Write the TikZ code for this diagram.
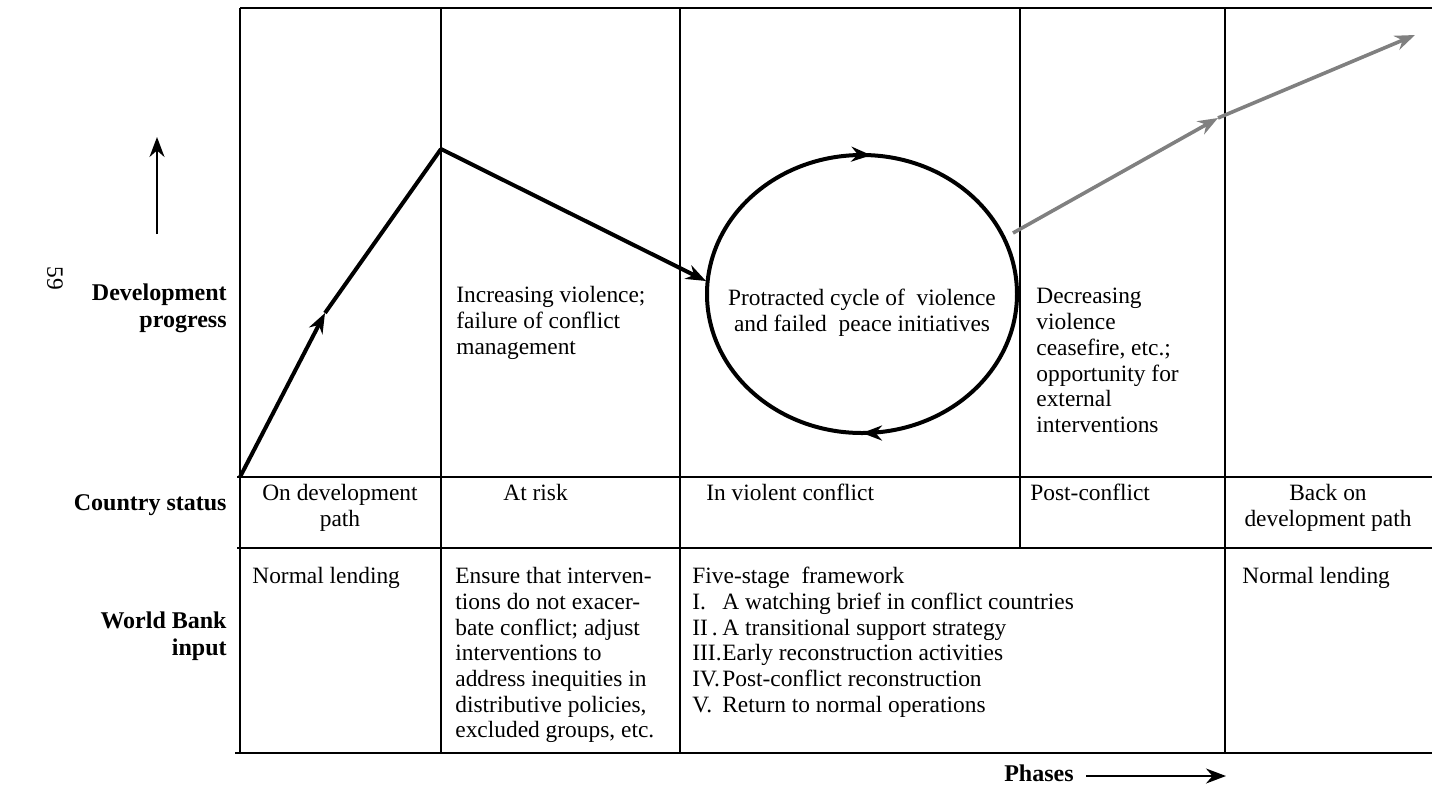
\documentclass[tikz,border=0pt]{standalone}
\usepackage{fontspec}
\setmainfont{Liberation Serif}
\usetikzlibrary{arrows.meta,decorations.markings}
\begin{document}
\begin{tikzpicture}[x=0.5pt,y=-0.5pt,
  gridline/.style={line width=1pt},
  chart/.style={line width=2pt},
  tip/.style={-{Stealth[length=10pt,width=7.5pt]}},
  grayline/.style={line width=1.8pt,draw=black!50},
  graytip/.style={-{Stealth[length=10pt,width=7.5pt]}},
  lbl/.style={font=\bfseries\fontsize{12}{13.5}\selectfont,align=right,inner sep=0pt},
  txt/.style={font=\fontsize{11.7}{12.85}\selectfont,align=left,inner sep=0pt},
  ctxt/.style={font=\fontsize{11.7}{12.85}\selectfont,align=center,inner sep=0pt}]
\useasboundingbox (0,0) rectangle (1432,789);

% ---------- grid ----------
\coordinate (tl) at (240,8);   \coordinate (tr) at (1432,8);
\coordinate (sl) at (237,477); \coordinate (sr) at (1432,477);
\coordinate (wl) at (237,548); \coordinate (wr) at (1432,548);
\coordinate (bl) at (235,753); \coordinate (br) at (1432,753);
\draw[gridline] (tl) -- (tr);
\draw[gridline] (sl) -- (sr);
\draw[gridline] (wl) -- (wr);
\draw[gridline] (bl) -- (br);
\foreach \x/\n in {240/a,441/b,680/c,1225/e}{
  \coordinate (v\n t) at (\x,8); \coordinate (v\n b) at (\x,753);
  \draw[gridline] (v\n t) -- (v\n b);}
\coordinate (vdt) at (1020,8); \coordinate (vdb) at (1020,548);
\draw[gridline] (vdt) -- (vdb);

% ---------- chart ----------
\coordinate (p0) at (240,477);
\coordinate (p1) at (325,313);
\coordinate (p2) at (441,149);
\coordinate (p3) at (706,281);
\draw[chart,tip] (p0) -- (p1);
\draw[chart] (p1) -- (p2);
\draw[chart,tip] (p2) -- (p3);
\coordinate (cc) at (862,294);
\draw[chart,postaction={decorate},decoration={markings,
   mark=at position 0.25 with {\arrow{Stealth[length=10pt,width=7.5pt]}},
   mark=at position 0.76 with {\arrow{Stealth[length=10pt,width=7.5pt]}}}]
   (cc) ellipse [x radius=155, y radius=139];
\coordinate (g0) at (1013,233);
\coordinate (g1) at (1218,118);
\coordinate (g2) at (1415,35);
\draw[grayline,graytip] (g0) -- (g1);
\draw[grayline,graytip] (g1) -- (g2);

% ---------- left labels ----------
\coordinate (ua) at (157,234); \coordinate (ub) at (157,137);
\draw[line width=1pt,tip] (ua) -- (ub);
\node[lbl,anchor=north east] (devprog) at (227,283) {Development\\progress};
\node[lbl,anchor=base east] (cstatus) at (227,510) {Country status};
\node[lbl,anchor=north east] (wbinput) at (227,611) {World Bank\\input};
\node[txt,rotate=-90] (pagenum) at (55,278) {59};

% ---------- top row texts ----------
\node[txt,anchor=north west] (incr) at (456,286) {Increasing violence;\\failure of conflict\\management};
\node[ctxt,anchor=north] (prot) at (862,289) {Protracted cycle of\ \ violence\\and failed\ \ peace initiatives};
\node[txt,anchor=north west] (decr) at (1036,288) {Decreasing\\violence\\ceasefire, etc.;\\opportunity for\\external\\interventions};

% ---------- status row ----------
\node[ctxt,anchor=north] (s1) at (340,484) {On development\\path};
\node[txt,anchor=base west] (s2) at (503,500) {At risk};
\node[txt,anchor=base west] (s3) at (706,500) {In violent conflict};
\node[txt,anchor=base west] (s4) at (1030,500) {Post-conflict};
\node[ctxt,anchor=north] (s5) at (1328,484) {Back on\\development path};

% ---------- World Bank input row ----------
\node[txt,anchor=base west] (w1) at (252,583) {Normal lending};
\node[txt,anchor=north west] (w2) at (455,567) {Ensure that interven-\\tions do not exacer-\\bate conflict; adjust\\interventions to\\address inequities in\\distributive policies,\\excluded groups, etc.};
\node[txt,anchor=north west] (w3) at (692,567) {Five-stage\ \ framework\\
  \makebox[15pt][l]{I.}A watching brief in conflict countries\\
  \makebox[15pt][l]{II\,.}A transitional support strategy\\
  \makebox[15pt][l]{III.}Early reconstruction activities\\
  \makebox[15pt][l]{IV.}Post-conflict reconstruction\\
  \makebox[15pt][l]{V.}Return to normal operations};
\node[txt,anchor=base west] (w4) at (1242,583) {Normal lending};

% ---------- phases ----------
\node[lbl,anchor=base east] (phases) at (1074,781) {Phases};
\coordinate (ph1) at (1086,776); \coordinate (ph2) at (1226,776);
\draw[line width=1pt,tip] (ph1) -- (ph2);
\end{tikzpicture}
\end{document}
